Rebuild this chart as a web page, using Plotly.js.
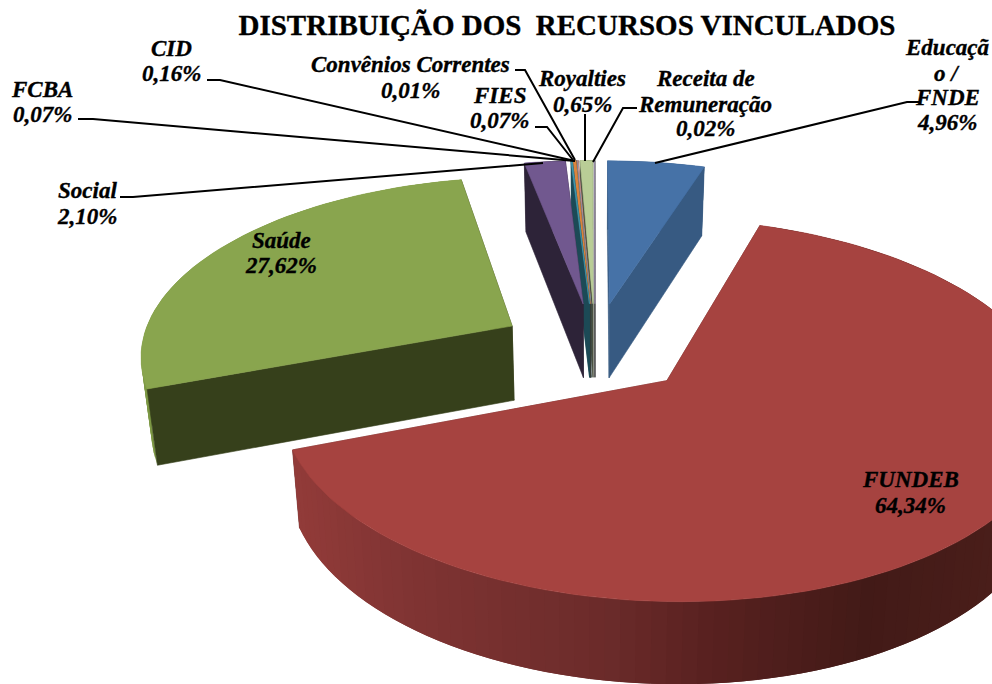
<!DOCTYPE html>
<html><head><meta charset="utf-8">
<script src="https://cdn.plot.ly/plotly-3.0.1.min.js"></script>
<style>html,body{margin:0;padding:0;background:#fff}
#chart text{stroke:#000;stroke-width:.35px}</style></head>
<body><div id="chart" style="width:992px;height:684px"></div>
<script>
// Data (clockwise from 12 o'clock)
const categories = ["Educação / FNDE","FUNDEB","Saúde","Social","FCBA","CID","Convênios Correntes","FIES","Royalties","Receita de Remuneração"];
const values = [4.96,64.34,27.62,2.10,0.07,0.16,0.01,0.07,0.65,0.02];
const valueLabels = ["4,96%","64,34%","27,62%","2,10%","0,07%","0,16%","0,01%","0,07%","0,65%","0,02%"];
const topColors = ["#4672a7","#a64340","#89a54e","#71588f","#4198af","#db843d","#93a9cf","#d19392","#b9cd96","#a99bbd"];
const sideColors = ["#375a82","#6b2b2a","#36401b","#2d2338","#1c4a56","#3a3a30","#2f4a50","#3a4540","#4a5040","#3a3a3a"];

// Camera of the 3-D pie
const CX=595, CY=348, SX=372, SY=177, PERSP=0.15, EXPLODE=0.26, DEPTH=75, TAPER=0.023;
const total = values.reduce((a,b)=>a+b,0);
function project(wx,wy,z){
  const w=1/(1+PERSP*wy);
  return [CX+SX*wx*w*(1-TAPER*z), CY-SY*wy*w+z*DEPTH*Math.sqrt(w)];
}
const rimStops=[[290,[146,59,57]],[400,[128,52,51]],[600,[107,43,42]],[700,[89,33,32]],[860,[66,26,23]],[1000,[74,30,26]]];
function rimColor(x){
  for(let i=1;i<rimStops.length;i++){
    if(x<=rimStops[i][0]){
      const a=rimStops[i-1],b=rimStops[i],t=Math.max(0,(x-a[0])/(b[0]-a[0]));
      const c=a[1].map((v,k)=>Math.round(v+(b[1][k]-v)*t));
      return `rgb(${c.join(",")})`;
    }
  }
  return "rgb(74,30,26)";
}
function poly(pts,color,lw){
  const xs=pts.map(p=>p[0]).concat(pts[0][0]), ys=pts.map(p=>p[1]).concat(pts[0][1]);
  return {type:"scatter",mode:"lines",x:xs,y:ys,fill:"toself",fillcolor:color,
    line:{color:color,width:lw===undefined?0.6:lw},hoverinfo:"skip",showlegend:false};
}
const slices=[]; let acc=0;
values.forEach((v,i)=>{
  const a0=acc/total*2*Math.PI; acc+=v; const a1=acc/total*2*Math.PI; const mid=(a0+a1)/2;
  slices.push({i,a0,a1,ox:EXPLODE*Math.sin(mid),oy:EXPLODE*Math.cos(mid)});
});
slices.sort((p,q)=>q.oy-p.oy);
const traces=[];
slices.forEach(s=>{
  const steps=Math.max(2,Math.ceil((s.a1-s.a0)/(Math.PI/90)));
  const rim=(t,z)=>{const a=s.a0+(s.a1-s.a0)*t;return project(s.ox+Math.sin(a),s.oy+Math.cos(a),z);};
  const apexT=project(s.ox,s.oy,0), apexB=project(s.ox,s.oy,1);
  const faceA=poly([apexT,rim(0,0),rim(0,1),apexB],sideColors[s.i]);
  const faceB=poly([apexT,rim(1,0),rim(1,1),apexB],sideColors[s.i]);
  const frontA=Math.sin(s.a0)<0, frontB=Math.sin(s.a1)>0;
  if(!frontA) traces.push(faceA);
  if(!frontB) traces.push(faceB);
  for(let k=0;k<steps;k++){
    // each rim piece overlaps the next one so that no seam shows between them
    const t1=Math.min(1,(k+2)/steps), t0=k/steps;
    const p=rim(t0,0),q=rim(t1,0),m=rim((k+1)/steps,1),r=rim(t1,1),u=rim(t0,1);
    const col=s.i===1?rimColor((p[0]+q[0])/2):(s.i===2?"#7d9845":sideColors[s.i]);
    traces.push(poly([p,q,r,m,u],col,0));
  }
  if(frontA) traces.push(faceA);
  if(frontB) traces.push(faceB);
  const top=[apexT]; for(let k=0;k<=steps;k++) top.push(rim(k/steps,0));
  traces.push(poly(top,topColors[s.i]));
});

const FONT="'Liberation Serif', serif";
function label(x,ys,lines){
  return lines.map((l,n)=>({x,y:ys[n],xref:"x",yref:"y",xanchor:"center",yanchor:"middle",showarrow:false,align:"center",
    text:`<b><i>${l}</i></b>`,font:{family:FONT,size:23,color:"#000"}}));
}
const annotations=[].concat(
  label(171,[48,73],["CID",valueLabels[5]]),
  label(42,[89,114],["FCBA",valueLabels[4]]),
  label(87,[190,216],["Social",valueLabels[3]]),
  label(410,[64,90],["Convênios Correntes",valueLabels[6]]),
  label(499,[95,120],["FIES",valueLabels[7]]),
  label(582,[78,104],["Royalties",valueLabels[8]]),
  label(705,[78,104,128],["Receita de","Remuneração",valueLabels[9]]),
  label(947,[47,73,97,122],["Educaçã","o /","FNDE",valueLabels[0]]),
  label(281,[240,265],["Saúde",valueLabels[2]]),
  label(910,[479,505],["FUNDEB",valueLabels[1]])
);
const leaders=[
  "M207,80 L220,80 L575,161","M78,119 L93,119 L575,161","M120,197 L133,197 L543,163",
  "M515,70 L525,70 L575,160","M535,127 L547,127 L573,160","M585,114 L585,161",
  "M637,108 L623,108 L593,162","M920,102 L907,102 L655,163"
];
const shapes=leaders.map(path=>({type:"path",path,xref:"x",yref:"y",line:{color:"#000",width:2}}));

Plotly.newPlot("chart",traces,{
  width:992,height:684,autosize:false,margin:{l:0,r:0,t:0,b:0},
  paper_bgcolor:"#fff",plot_bgcolor:"#fff",showlegend:false,
  title:{text:"<b>DISTRIBUIÇÃO DOS  RECURSOS VINCULADOS</b>",x:567/992,xanchor:"center",y:1-25/684,yanchor:"middle",
    font:{family:FONT,size:29,color:"#000"}},
  xaxis:{range:[0,992],visible:false,fixedrange:true},
  yaxis:{range:[684,0],visible:false,fixedrange:true},
  annotations,shapes
},{displayModeBar:false,staticPlot:true});
</script></body></html>
